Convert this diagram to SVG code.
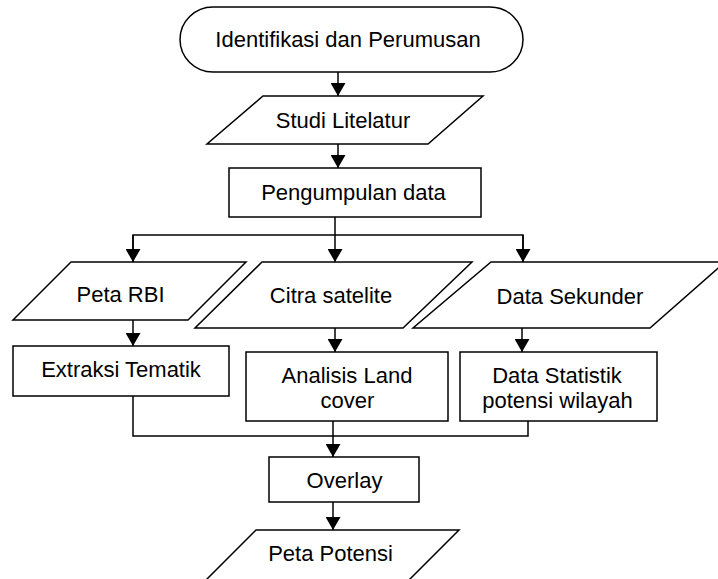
<svg xmlns="http://www.w3.org/2000/svg" width="718" height="579" viewBox="0 0 718 579">
<style>
.s{fill:#fff;stroke:#000;stroke-width:1.5}
.c{fill:none;stroke:#000;stroke-width:1.5}
text{font-family:"Liberation Sans",Arial,sans-serif;font-size:22px;fill:#000;text-anchor:middle}
</style>
<defs>
<marker id="ah" markerUnits="userSpaceOnUse" markerWidth="14" markerHeight="15" refX="13" refY="7.5" orient="auto">
<path d="M0,0 L13,7.5 L0,15 z" fill="#000"/>
</marker>
</defs>
<rect x="0" y="0" width="718" height="579" fill="#fff"/>
<g id="connectors" class="c">
<line x1="338" y1="72" x2="338" y2="96" marker-end="url(#ah)"/>
<line x1="338" y1="144" x2="338" y2="168" marker-end="url(#ah)"/>
<line x1="335" y1="217" x2="335" y2="262" marker-end="url(#ah)"/>
<polyline points="133,262 133,235 523,235 523,262" fill="none"/>
<line x1="133" y1="235" x2="133" y2="262" marker-end="url(#ah)"/>
<line x1="523" y1="235" x2="523" y2="262" marker-end="url(#ah)"/>
<line x1="133" y1="320" x2="133" y2="346" marker-end="url(#ah)"/>
<line x1="335" y1="328" x2="335" y2="352" marker-end="url(#ah)"/>
<line x1="522" y1="328" x2="522" y2="352" marker-end="url(#ah)"/>
<polyline points="133,396 133,436 528,436 528,421"/>
<line x1="333" y1="421" x2="333" y2="457" marker-end="url(#ah)"/>
<line x1="333" y1="502" x2="333" y2="530" marker-end="url(#ah)"/>
</g>
<g id="n-identifikasi">
<rect class="s" x="180" y="7" width="343" height="65" rx="33" ry="32.5"/>
<text x="348" y="47">Identifikasi dan Perumusan</text>
</g>
<g id="n-studi">
<polygon class="s" points="263,96 483,96 428,144 207,144"/>
<text x="343" y="128">Studi Litelatur</text>
</g>
<g id="n-pengumpulan">
<rect class="s" x="229" y="168" width="252" height="49"/>
<text x="353.5" y="200">Pengumpulan data</text>
</g>
<g id="n-petarbi">
<polygon class="s" points="71,262 246,262 188,320 13,320"/>
<text x="120.5" y="302">Peta RBI</text>
</g>
<g id="n-citra">
<polygon class="s" points="262,262 472,262 403,328 195,328"/>
<text x="331" y="303">Citra satelite</text>
</g>
<g id="n-sekunder">
<polygon class="s" points="491,262 725,262 650,328 413,328"/>
<text x="570" y="304">Data Sekunder</text>
</g>
<g id="n-extraksi">
<rect class="s" x="13" y="346" width="216" height="50"/>
<text x="121" y="377">Extraksi Tematik</text>
</g>
<g id="n-analisis">
<rect class="s" x="246" y="352" width="202" height="69"/>
<text x="347" y="383">Analisis Land</text>
<text x="347.5" y="408">cover</text>
</g>
<g id="n-statistik">
<rect class="s" x="460" y="352" width="197" height="69"/>
<text x="557" y="383">Data Statistik</text>
<text x="557.5" y="408">potensi wilayah</text>
</g>
<g id="n-overlay">
<rect class="s" x="269" y="457" width="150" height="45"/>
<text x="344.5" y="488">Overlay</text>
</g>
<g id="n-petapotensi">
<polygon class="s" points="256,530 459,530 397,592 194,592"/>
<text x="330.5" y="561">Peta Potensi</text>
</g>
</svg>
